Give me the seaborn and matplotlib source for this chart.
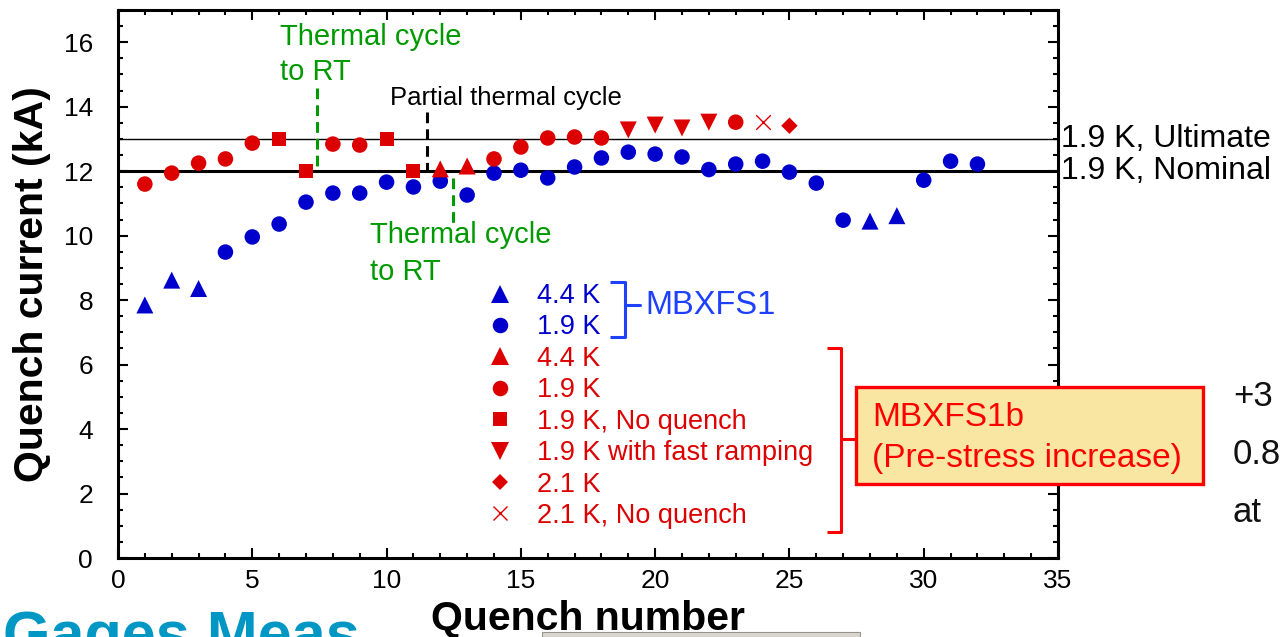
import numpy as np
import pandas as pd
import matplotlib
matplotlib.use("Agg")
import matplotlib.pyplot as plt
from matplotlib.lines import Line2D
from matplotlib.patches import Rectangle
from matplotlib.ticker import MultipleLocator
from matplotlib.transforms import blended_transform_factory
import seaborn as sns

# ---------------------------------------------------------------- data
# MBXFS1
mbxfs1_44k_q = [1, 2, 3, 28, 29]
mbxfs1_44k_i = [7.85, 8.62, 8.36, 10.45, 10.62]
mbxfs1_19k_q = [4, 5, 6, 7, 8, 9, 10, 11, 12, 13, 14, 15, 16, 17, 18, 19, 20,
                21, 22, 23, 24, 25, 26, 27, 30, 31, 32]
mbxfs1_19k_i = [9.49, 9.96, 10.36, 11.04, 11.32, 11.32, 11.66, 11.51, 11.69,
                11.26, 11.94, 12.03, 11.79, 12.13, 12.41, 12.59, 12.53, 12.44,
                12.05, 12.22, 12.31, 11.97, 11.63, 10.48, 11.72, 12.31, 12.22]

# MBXFS1b (pre-stress increase)
mbxfs1b_44k_q = [12, 13]
mbxfs1b_44k_i = [12.07, 12.16]
mbxfs1b_19k_q = [1, 2, 3, 4, 5, 8, 9, 14, 15, 16, 17, 18, 23]
mbxfs1b_19k_i = [11.60, 11.94, 12.25, 12.38, 12.87, 12.84, 12.81, 12.38, 12.75,
                 13.03, 13.06, 13.03, 13.52]
mbxfs1b_19k_nq_q = [6, 7, 10, 11]
mbxfs1b_19k_nq_i = [13.0, 12.0, 13.0, 12.0]
mbxfs1b_fast_q = [19, 20, 21, 22]
mbxfs1b_fast_i = [13.28, 13.43, 13.34, 13.52]
mbxfs1b_21k_q = [25]
mbxfs1b_21k_i = [13.41]
mbxfs1b_21k_nq_q = [24]
mbxfs1b_21k_nq_i = [13.52]

legend_labels = ["4.4 K", "1.9 K", "4.4 K", "1.9 K", "1.9 K, No quench",
                 "1.9 K with fast ramping", "2.1 K", "2.1 K, No quench"]

nominal_current = 12.0
ultimate_current = 13.0

# ---------------------------------------------------------------- style
sns.set_theme(style="ticks")
plt.rcParams["font.family"] = ["Liberation Sans", "DejaVu Sans"]
plt.rcParams["text.color"] = "black"
plt.rcParams["axes.labelcolor"] = "black"
plt.rcParams["xtick.color"] = "black"
plt.rcParams["ytick.color"] = "black"
plt.rcParams["axes.linewidth"] = 2.2

BLUE = "#0000CC"
BLUE_BRIGHT = "#1E40FF"
RED = "#DD0000"
RED_BRIGHT = "#FF0000"
GREEN = "#009A00"

W, H = 1287, 637
fig = plt.figure(figsize=(W / 100, H / 100), dpi=100)
ax = fig.add_axes([118 / W, 79 / H, 940 / W, 548 / H])


def fpx(x, y):
    """Figure-pixel (from top-left) to figure fraction."""
    return x / W, 1 - y / H


series = [
    (mbxfs1_44k_q, mbxfs1_44k_i, "^", 150, BLUE),
    (mbxfs1_19k_q, mbxfs1_19k_i, "o", 125, BLUE),
    (mbxfs1b_44k_q, mbxfs1b_44k_i, "^", 150, RED),
    (mbxfs1b_19k_q, mbxfs1b_19k_i, "o", 125, RED),
    (mbxfs1b_19k_nq_q, mbxfs1b_19k_nq_i, "s", 100, RED),
    (mbxfs1b_fast_q, mbxfs1b_fast_i, "v", 150, RED),
    (mbxfs1b_21k_q, mbxfs1b_21k_i, "D", 70, RED),
    (mbxfs1b_21k_nq_q, mbxfs1b_21k_nq_i, "x", 110, RED),
]

handles = []
for q, cur, mk, size, col in series:
    df = pd.DataFrame({"quench": q, "current": cur})
    if mk == "x":
        sns.scatterplot(data=df, x="quench", y="current", marker=mk, s=size,
                        color=col, linewidth=1.0, ax=ax, zorder=4)
        handles.append(Line2D([], [], ls="none", marker=mk, color=col,
                              markersize=np.sqrt(size), markeredgewidth=1.0))
    else:
        sns.scatterplot(data=df, x="quench", y="current", marker=mk, s=size,
                        color=col, edgecolor="none", linewidth=0, ax=ax,
                        zorder=4)
        handles.append(Line2D([], [], ls="none", marker=mk, color=col,
                              markersize=np.sqrt(size), markeredgewidth=0))

# reference current levels
ax.axhline(nominal_current, color="black", lw=2.2, zorder=3)
ax.axhline(ultimate_current, color="black", lw=1.0, zorder=3)
lbl_tr = blended_transform_factory(ax.transAxes, ax.transData)
ax.text(1.003, ultimate_current, "1.9 K, Ultimate", transform=lbl_tr,
        ha="left", va="center", fontsize=23, color="black")
ax.text(1.003, nominal_current, "1.9 K, Nominal", transform=lbl_tr,
        ha="left", va="center", fontsize=23, color="black")

# axes
ax.set_xlim(0, 35)
ax.set_ylim(0, 17)
ax.xaxis.set_major_locator(MultipleLocator(5))
ax.xaxis.set_minor_locator(MultipleLocator(1))
ax.yaxis.set_major_locator(MultipleLocator(2))
ax.yaxis.set_minor_locator(MultipleLocator(0.5))
ax.set_yticks(np.arange(0, 17, 2))
for s in ax.spines.values():
    s.set_linewidth(2.2)
    s.set_color("black")
ax.tick_params(which="both", direction="in", top=True, right=True,
               color="black", labelcolor="black")
ax.tick_params(which="major", length=7, width=1.5, labelsize=19)
ax.tick_params(which="minor", length=3.6, width=1.5)
ax.tick_params(axis="y", which="major", pad=18)
ax.tick_params(axis="x", which="major", pad=8)

ax.set_xlabel("Quench number", fontsize=29.5, fontweight="bold",
              color="black")
ax.set_ylabel("Quench current (kA)", fontsize=29.5, fontweight="bold",
              color="black")
ax.xaxis.set_label_coords(0.5, -0.0766)
ax.yaxis.set_label_coords(-0.0713, 0.5)

# thermal cycle markers
dash = (0, (3.5, 2))
ax.plot([7.41, 7.41], [14.58, 12.1], color=GREEN, lw=2.2, ls=dash, zorder=3)
ax.text(6.03, 15.91, "Thermal cycle", color=GREEN, fontsize=21, va="baseline")
ax.text(6.03, 14.83, "to RT", color=GREEN, fontsize=21, va="baseline")

ax.plot([11.5, 11.5], [13.83, 12.05], color="black", lw=2.2, ls=dash, zorder=3)
ax.text(10.13, 14.05, "Partial thermal cycle", color="black", fontsize=18.5,
        va="baseline")

ax.plot([12.47, 12.47], [11.79, 10.33], color=GREEN, lw=2.2, ls=dash, zorder=3)
ax.text(9.38, 9.77, "Thermal cycle", color=GREEN, fontsize=21, va="baseline")
ax.text(9.38, 8.62, "to RT", color=GREEN, fontsize=21, va="baseline")

# legend
leg = ax.legend(handles, legend_labels, loc="upper left",
                bbox_to_anchor=fpx(486.5, 283), bbox_transform=fig.transFigure,
                frameon=False, fontsize=19.5, handlelength=1.0,
                handletextpad=0.87, labelspacing=0.2, borderpad=0,
                borderaxespad=0,
                labelcolor=[BLUE, BLUE, RED, RED, RED, RED, RED, RED])

# group brackets
def bracket(x0, x1, ytop, ybot, ymid, xstub, color):
    xs = [x0, x1, x1, x1, x1, x0]
    ys = [ytop, ytop, ybot, ybot, ybot, ybot]
    pts = [fpx(a, b) for a, b in zip(xs, ys)]
    fig.add_artist(Line2D([p[0] for p in pts], [p[1] for p in pts],
                          transform=fig.transFigure, color=color, lw=2.2,
                          solid_joinstyle="round", solid_capstyle="butt"))
    a, b = fpx(x1, ymid), fpx(xstub, ymid)
    fig.add_artist(Line2D([a[0], b[0]], [a[1], b[1]],
                          transform=fig.transFigure, color=color, lw=2.2))


bracket(610, 625, 282, 337, 305, 640, BLUE_BRIGHT)
fig.text(*fpx(645, 305), "MBXFS1", color=BLUE_BRIGHT, fontsize=23.5,
         ha="left", va="center")

bracket(827, 841, 348, 532, 439, 856, RED_BRIGHT)
bx0, by0 = fpx(856, 484)
bx1, by1 = fpx(1203, 387)
box = Rectangle((bx0, by0), bx1 - bx0, by1 - by0, transform=fig.transFigure,
                facecolor="#F8E6A2", edgecolor=RED_BRIGHT, lw=2.4, zorder=10)
fig.add_artist(box)
fig.text(*fpx(872, 418), "MBXFS1b", color=RED_BRIGHT, fontsize=24,
         ha="left", va="center", zorder=11)
fig.text(*fpx(872, 458), "(Pre-stress increase)", color=RED_BRIGHT,
         fontsize=24, ha="left", va="center", zorder=11)

# surrounding slide content
for txt, yy in [("+3", 397), ("0.8", 454), ("at", 513)]:
    fig.text(*fpx(1233, yy), txt, color="#111111", fontsize=25,
             ha="left", va="center")
fig.text(*fpx(3, 610), "Gages Meas", color="#0097C4", fontsize=44,
         fontweight="bold", ha="left", va="top")
sx0, sy0 = fpx(542, 637)
sx1, sy1 = fpx(860, 632)
fig.add_artist(Rectangle((sx0, sy0), sx1 - sx0, sy1 - sy0,
                         transform=fig.transFigure, facecolor="#D9D6D0",
                         edgecolor="#9A958C", lw=0.8))

fig.savefig("out.png", dpi=100)
